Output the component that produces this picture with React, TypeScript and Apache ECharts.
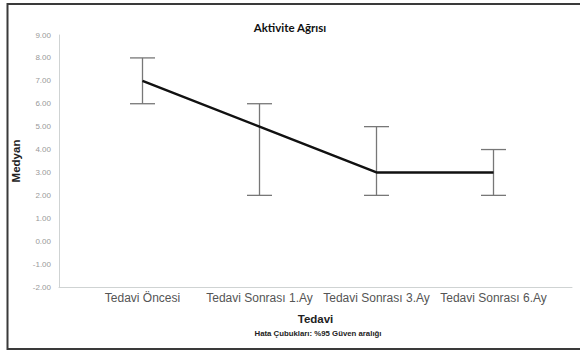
import React, { useEffect, useRef } from "react";
import * as echarts from "echarts";

const categories = ["Tedavi Öncesi", "Tedavi Sonrası 1.Ay", "Tedavi Sonrası 3.Ay", "Tedavi Sonrası 6.Ay"];
const medians = [7, 5, 3, 3];
const lowerCI = [6, 2, 2, 2];
const upperCI = [8, 6, 5, 4];
const yMin = -2;
const yMax = 9;

export default function App() {
  const ref = useRef<HTMLDivElement>(null);
  useEffect(() => {
    document.body.style.margin = "0";
    const chart = echarts.init(ref.current!, null, { renderer: "svg" });
    const top = 35;
    const bottom = 66;
    const errData = categories.map((_, i) => [i, lowerCI[i], upperCI[i]]);
    chart.setOption({
      animation: false,
      backgroundColor: "#ffffff",
      title: {
        text: "Aktivite Ağrısı",
        left: "center",
        top: 16,
        textStyle: { fontFamily: "Lato", fontSize: 11.5, fontWeight: "bold", color: "#111" },
      },
      grid: [
        { left: 59, right: 8, top, bottom },
        { left: 84, width: 468, top, bottom },
      ],
      xAxis: [
        {
          type: "value",
          gridIndex: 0,
          min: 0,
          max: 1,
          axisLine: { show: true, onZero: false, lineStyle: { color: "#cfd3d3", width: 1 } },
          axisTick: { show: false },
          axisLabel: { show: false },
          splitLine: { show: false },
          name: "Tedavi",
          nameLocation: "middle",
          nameGap: 26,
          nameTextStyle: { fontFamily: "Liberation Sans", fontSize: 11.5, fontWeight: "bold", color: "#222" },
        },
        {
          type: "category",
          gridIndex: 1,
          data: categories,
          boundaryGap: true,
          axisLine: { show: false },
          axisTick: { show: false },
          axisLabel: { fontFamily: "Liberation Sans", fontSize: 12, color: "#555", margin: 5, interval: 0 },
          splitLine: { show: false },
        },
      ],
      yAxis: [
        {
          type: "value",
          gridIndex: 0,
          min: yMin,
          max: yMax,
          interval: 1,
          axisLine: { show: true, lineStyle: { color: "#cfd3d3", width: 1 } },
          axisTick: { show: false },
          splitLine: { show: false },
          axisLabel: {
            fontFamily: "Liberation Sans",
            fontSize: 8,
            color: "#999",
            margin: 8,
            formatter: (v: number) => v.toFixed(2),
          },
          name: "Medyan",
          nameLocation: "middle",
          nameGap: 26,
          nameTextStyle: { fontFamily: "Liberation Sans", fontSize: 11.5, fontWeight: "bold", color: "#222" },
        },
        {
          type: "value",
          gridIndex: 1,
          min: yMin,
          max: yMax,
          interval: 1,
          show: false,
        },
      ],
      series: [
        {
          type: "custom",
          xAxisIndex: 1,
          yAxisIndex: 1,
          data: errData,
          z: 1,
          renderItem: (params: any, api: any) => {
            const x = api.value(0);
            const lo = api.coord([x, api.value(1)]);
            const hi = api.coord([x, api.value(2)]);
            const hw = 12.5;
            const style = { stroke: "#777", lineWidth: 1.3 };
            return {
              type: "group",
              children: [
                { type: "line", shape: { x1: lo[0], y1: lo[1], x2: hi[0], y2: hi[1] }, style },
                { type: "line", shape: { x1: lo[0] - hw, y1: lo[1], x2: lo[0] + hw, y2: lo[1] }, style },
                { type: "line", shape: { x1: hi[0] - hw, y1: hi[1], x2: hi[0] + hw, y2: hi[1] }, style },
              ],
            };
          },
        },
        {
          type: "line",
          xAxisIndex: 1,
          yAxisIndex: 1,
          data: medians,
          z: 3,
          symbol: "none",
          lineStyle: { color: "#111", width: 2.5 },
        },
      ],
      graphic: [
        {
          type: "polyline",
          shape: { points: [[580, 4], [7.5, 4], [7.5, 349], [580, 349]] },
          style: { stroke: "#3a3a3a", lineWidth: 2, fill: "none" },
          silent: true,
        },
        {
          type: "text",
          x: 318,
          y: 333,
          style: {
            text: "Hata Çubukları: %95 Güven aralığı",
            fontFamily: "Liberation Sans",
            fontSize: 7.8,
            fontWeight: "bold",
            fill: "#222",
            align: "center",
            verticalAlign: "middle",
          },
        },
      ],
    });
    return () => chart.dispose();
  }, []);
  return <div ref={ref} style={{ position: "absolute", left: 0, top: 0, width: 580, height: 353 }} />;
}
